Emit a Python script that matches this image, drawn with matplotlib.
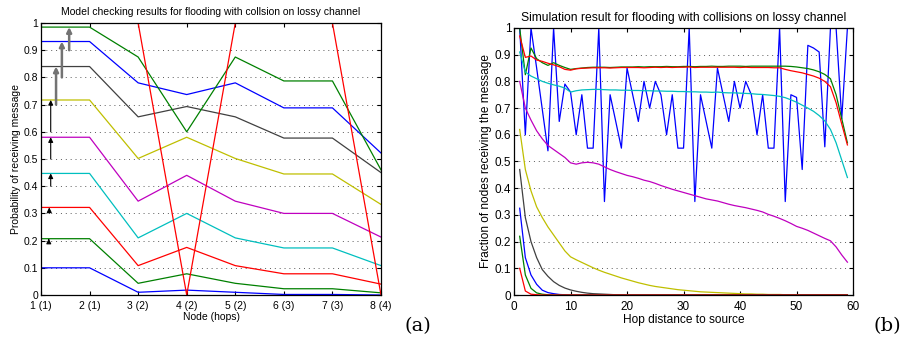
import numpy as np
import matplotlib
matplotlib.use('Agg')
import matplotlib.pyplot as plt

plt.rcParams['font.family'] = ['Liberation Sans', 'DejaVu Sans']

# Matlab default colour order
C_B = (0, 0, 1)
C_G = (0, 0.5, 0)
C_R = (1, 0, 0)
C_C = (0, 0.75, 0.75)
C_M = (0.75, 0, 0.75)
C_Y = (0.75, 0.75, 0)
C_K = (0.25, 0.25, 0.25)
colors = [C_B, C_G, C_R, C_C, C_M, C_Y, C_K, C_B, C_G, C_R]

# ---- (a) model checking ----
node_labels = ['1 (1)', '2 (1)', '3 (2)', '4 (2)', '5 (2)', '6 (3)', '7 (3)', '8 (4)']
nodes = [1, 2, 3, 4, 5, 6, 7, 8]
prob_a = [
    [0.100, 0.100, 0.010, 0.018, 0.010, 0.002, 0.002, 0.000],
    [0.207, 0.207, 0.043, 0.078, 0.043, 0.023, 0.023, 0.008],
    [0.322, 0.322, 0.108, 0.175, 0.108, 0.078, 0.078, 0.040],
    [0.447, 0.447, 0.210, 0.300, 0.210, 0.173, 0.173, 0.108],
    [0.580, 0.580, 0.345, 0.440, 0.345, 0.300, 0.300, 0.213],
    [0.717, 0.717, 0.502, 0.580, 0.502, 0.445, 0.445, 0.333],
    [0.840, 0.840, 0.655, 0.693, 0.655, 0.577, 0.577, 0.450],
    [0.932, 0.932, 0.780, 0.737, 0.780, 0.688, 0.688, 0.522],
    [0.985, 0.985, 0.875, 0.600, 0.875, 0.787, 0.787, 0.460],
    [1.000, 1.000, 1.000, 0.000, 1.000, 1.000, 1.000, 0.000],
]
arrow_x = [1.16, 1.17, 1.2, 1.2, 1.2, 1.31, 1.43, 1.58]
arrow_from = [0.2, 0.3, 0.4, 0.5, 0.6, 0.7, 0.8, 0.9]
arrow_to = [0.207, 0.322, 0.447, 0.58, 0.717, 0.84, 0.932, 0.985]

# ---- (b) simulation ----
hops = np.arange(1, 60)
sim_b = [
    # blue (zigzag)
    [1.0, 0.6, 1.0, 0.85, 0.695, 0.54, 1.0, 0.65, 0.79, 0.76,
     0.6, 0.75, 0.55, 0.55, 1.0, 0.35, 0.75, 0.65, 0.55, 0.85,
     0.75, 0.65, 0.8, 0.7, 0.8, 0.75, 0.6, 0.75, 0.55, 0.55,
     1.0, 0.35, 0.75, 0.65, 0.55, 0.85, 0.75, 0.65, 0.8, 0.7,
     0.8, 0.75, 0.6, 0.75, 0.55, 0.55, 1.0, 0.35, 0.75, 0.74,
     0.47, 0.935, 0.925, 0.91, 0.555, 1.0, 1.0, 0.66, 1.0],
    # green
    [1.0, 0.825, 0.925, 0.885, 0.87, 0.86, 0.87, 0.86, 0.852, 0.845,
     0.848, 0.85, 0.852, 0.853, 0.853, 0.853, 0.852, 0.853, 0.854, 0.854,
     0.854, 0.855, 0.854, 0.855, 0.855, 0.855, 0.856, 0.855, 0.855, 0.856,
     0.856, 0.855, 0.856, 0.856, 0.857, 0.856, 0.856, 0.857, 0.857, 0.857,
     0.856, 0.857, 0.857, 0.857, 0.857, 0.857, 0.857, 0.857, 0.856, 0.854,
     0.851, 0.848, 0.843, 0.836, 0.826, 0.81, 0.75, 0.66, 0.57],
    # red
    [0.97, 0.89, 0.895, 0.88, 0.875, 0.868, 0.862, 0.855, 0.845, 0.842,
     0.847, 0.849, 0.85, 0.851, 0.851, 0.851, 0.85, 0.851, 0.852, 0.852,
     0.852, 0.852, 0.851, 0.852, 0.853, 0.852, 0.853, 0.852, 0.853, 0.853,
     0.854, 0.852, 0.853, 0.853, 0.853, 0.853, 0.853, 0.853, 0.853, 0.852,
     0.853, 0.852, 0.852, 0.852, 0.852, 0.851, 0.851, 0.845, 0.84, 0.836,
     0.832, 0.826, 0.82, 0.812, 0.8, 0.78, 0.72, 0.64, 0.562],
    # cyan
    [0.91, 0.835, 0.82, 0.81, 0.8, 0.793, 0.787, 0.782, 0.775, 0.76,
     0.765, 0.768, 0.769, 0.77, 0.77, 0.769, 0.768, 0.768, 0.767, 0.767,
     0.766, 0.766, 0.765, 0.765, 0.764, 0.764, 0.763, 0.763, 0.762, 0.762,
     0.761, 0.761, 0.76, 0.76, 0.759, 0.76, 0.758, 0.757, 0.757, 0.756,
     0.755, 0.754, 0.752, 0.751, 0.749, 0.747, 0.744, 0.739, 0.731, 0.722,
     0.711, 0.7, 0.688, 0.672, 0.652, 0.62, 0.57, 0.505, 0.44],
    # magenta
    [0.8, 0.7, 0.655, 0.615, 0.585, 0.56, 0.545, 0.53, 0.515, 0.495,
     0.49, 0.495, 0.497, 0.495, 0.49, 0.48, 0.47, 0.462, 0.455, 0.448,
     0.443, 0.437, 0.43, 0.425, 0.418, 0.41, 0.403, 0.396, 0.39, 0.384,
     0.378, 0.372, 0.366, 0.36, 0.356, 0.352, 0.346, 0.34, 0.335, 0.331,
     0.327, 0.322, 0.317, 0.311, 0.302, 0.295, 0.287, 0.278, 0.268, 0.257,
     0.25, 0.242, 0.232, 0.222, 0.212, 0.203, 0.18, 0.15, 0.123],
    # yellow
    [0.62, 0.47, 0.39, 0.33, 0.29, 0.255, 0.225, 0.195, 0.165, 0.143,
     0.132, 0.122, 0.112, 0.102, 0.093, 0.085, 0.078, 0.071, 0.064, 0.058,
     0.052, 0.046, 0.041, 0.036, 0.032, 0.029, 0.026, 0.023, 0.02, 0.018,
     0.016, 0.014, 0.012, 0.011, 0.01, 0.009, 0.008, 0.007, 0.006, 0.005,
     0.004, 0.004, 0.003, 0.003, 0.002, 0.002, 0.002, 0.001, 0.001, 0.001]
    + [0.0] * 9,
    # dark grey
    [0.47, 0.29, 0.2, 0.14, 0.095, 0.07, 0.05, 0.036, 0.026, 0.019,
     0.014, 0.01, 0.007, 0.005, 0.004, 0.003, 0.002, 0.001, 0.001]
    + [0.0] * 40,
    # blue
    [0.325, 0.14, 0.075, 0.04, 0.018, 0.009, 0.005, 0.002, 0.001] + [0.0] * 50,
    # green
    [0.22, 0.075, 0.025, 0.008, 0.003, 0.001] + [0.0] * 53,
    # red
    [0.1, 0.015, 0.003, 0.001] + [0.0] * 55,
]

ytick_labels = ['0', '0.1', '0.2', '0.3', '0.4', '0.5', '0.6', '0.7', '0.8', '0.9', '1']

fig = plt.figure(figsize=(9.05, 3.38), dpi=100)
ax1 = fig.add_axes([0.0453, 0.1272, 0.3757, 0.8047])
ax2 = fig.add_axes([0.568, 0.1272, 0.3746, 0.79])

grid_style = dict(color='0.35', linestyle=(0, (1, 4)), linewidth=0.7)

# (a)
for vals, c in zip(prob_a, colors):
    ax1.plot(nodes, vals, color=c, linewidth=0.9)
for xa, y0, y1 in zip(arrow_x, arrow_from, arrow_to):
    thick = y0 >= 0.7
    ax1.annotate('', xy=(xa, y1), xytext=(xa, y0),
                 arrowprops=dict(arrowstyle='-|>', color='0.45' if thick else 'k',
                                 lw=1.8 if thick else 0.8,
                                 mutation_scale=7, shrinkA=0, shrinkB=0))
ax1.set_xlim(1, 8)
ax1.set_ylim(0, 1)
ax1.set_xticks(nodes)
ax1.set_xticklabels(node_labels)
ax1.set_yticks(np.arange(0, 1.01, 0.1))
ax1.set_yticklabels(ytick_labels)
ax1.yaxis.grid(True, **grid_style)
ax1.tick_params(direction='in', top=True, right=True, labelsize=7.5, length=3, pad=2)
ax1.tick_params(axis='x', pad=4)
ax1.set_xlabel('Node (hops)', fontsize=7.5, labelpad=1)
ax1.set_ylabel('Probability of receiving message', fontsize=7.5, labelpad=2)
ax1.set_title('Model checking results for flooding with collsion on lossy channel',
              fontsize=7.5, pad=6)

# (b)
for vals, c in zip(sim_b, colors):
    ax2.plot(hops, vals, color=c, linewidth=0.9)
ax2.set_xlim(0, 60)
ax2.set_ylim(0, 1)
ax2.set_xticks(np.arange(0, 61, 10))
ax2.set_yticks(np.arange(0, 1.01, 0.1))
ax2.set_yticklabels(ytick_labels)
ax2.yaxis.grid(True, **grid_style)
ax2.tick_params(direction='in', top=True, right=True, labelsize=8.5, length=3, pad=2)
ax2.tick_params(axis='x', pad=4)
ax2.set_xlabel('Hop distance to source', fontsize=8.6, labelpad=1)
ax2.set_ylabel('Fraction of nodes receiving the message', fontsize=8.6, labelpad=2)
ax2.set_title('Simulation result for flooding with collisions on lossy channel',
              fontsize=8.7, pad=5)

for ax in (ax1, ax2):
    for s in ax.spines.values():
        s.set_linewidth(0.9)

fig.text(0.4475, 0.02, '(a)', fontsize=14, family='DejaVu Serif')
fig.text(0.965, 0.02, '(b)', fontsize=14, family='DejaVu Serif')

fig.savefig('out.png', dpi=100)
